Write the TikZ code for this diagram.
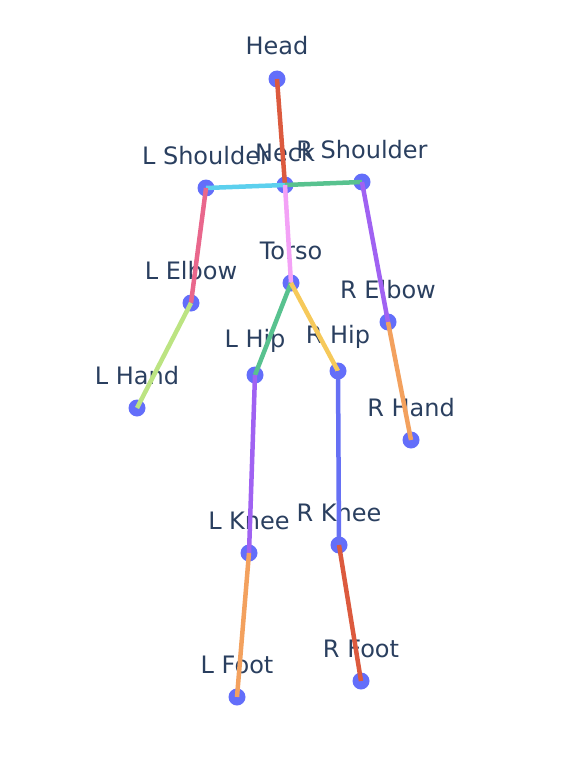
\documentclass[tikz,border=0pt]{standalone}
\usepackage{fontspec}
\setmainfont{DejaVu Sans}
\definecolor{txtc}{HTML}{2A3F5F}
\definecolor{dotc}{HTML}{636EFA}
\definecolor{redc}{HTML}{DC5A3E}
\definecolor{cyanc}{HTML}{5CD0EE}
\definecolor{greenc}{HTML}{58C28F}
\definecolor{pinkc}{HTML}{E9678C}
\definecolor{limec}{HTML}{BCE482}
\definecolor{violetc}{HTML}{A062F2}
\definecolor{orangec}{HTML}{F3A15E}
\definecolor{yellowc}{HTML}{F6C95A}
\definecolor{mauvec}{HTML}{F3A2F6}
\definecolor{bluec}{HTML}{6670F4}

\begin{document}
\begin{tikzpicture}[x=1pt,y=-1pt,
  joint/.style={circle,fill=dotc,inner sep=0pt,minimum size=17pt},
  lbl/.style={anchor=base,inner sep=0pt,text=txtc,font=\fontsize{24}{28}\selectfont},
  bone/.style={line width=4.5pt}]
\useasboundingbox (0,0) rectangle (568,760);
% joints
\node[joint] (head) at (277,79) {};
\node[joint] (neck) at (285,185) {};
\node[joint] (lsh) at (206,188) {};
\node[joint] (rsh) at (362,182) {};
\node[joint] (torso) at (291,283) {};
\node[joint] (lelb) at (191,303) {};
\node[joint] (lhand) at (137,408) {};
\node[joint] (relb) at (388,322) {};
\node[joint] (rhand) at (411,440) {};
\node[joint] (lhip) at (255,375) {};
\node[joint] (rhip) at (338,371) {};
\node[joint] (lknee) at (249,553) {};
\node[joint] (rknee) at (339,545) {};
\node[joint] (lfoot) at (237,697) {};
\node[joint] (rfoot) at (361,681) {};
% labels
\node[lbl] (headl) at (277,55) {Head};
\node[lbl] (lshl) at (206,164) {L Shoulder};
\node[lbl] (neckl) at (285,161) {Neck};
\node[lbl] (rshl) at (362,158) {R Shoulder};
\node[lbl] (torsol) at (291,259) {Torso};
\node[lbl] (lelbl) at (191,279) {L Elbow};
\node[lbl] (lhandl) at (137,384) {L Hand};
\node[lbl] (relbl) at (388,298) {R Elbow};
\node[lbl] (rhandl) at (411,416) {R Hand};
\node[lbl] (lhipl) at (255,347) {L Hip};
\node[lbl] (rhipl) at (338,343) {R Hip};
\node[lbl] (lkneel) at (249,529) {L Knee};
\node[lbl] (rkneel) at (339,521) {R Knee};
\node[lbl] (lfootl) at (237,673) {L Foot};
\node[lbl] (rfootl) at (361,657) {R Foot};
% bones
\draw[bone,redc] (head.center) -- (neck.center);
\draw[bone,cyanc] (neck.center) -- (lsh.center);
\draw[bone,greenc] (neck.center) -- (rsh.center);
\draw[bone,pinkc] (lsh.center) -- (lelb.center);
\draw[bone,limec] (lelb.center) -- (lhand.center);
\draw[bone,violetc] (rsh.center) -- (relb.center);
\draw[bone,orangec] (relb.center) -- (rhand.center);
\draw[bone,mauvec] (neck.center) -- (torso.center);
\draw[bone,greenc] (torso.center) -- (lhip.center);
\draw[bone,yellowc] (torso.center) -- (rhip.center);
\draw[bone,violetc] (lhip.center) -- (lknee.center);
\draw[bone,orangec] (lknee.center) -- (lfoot.center);
\draw[bone,bluec] (rhip.center) -- (rknee.center);
\draw[bone,redc] (rknee.center) -- (rfoot.center);
\end{tikzpicture}
\end{document}
